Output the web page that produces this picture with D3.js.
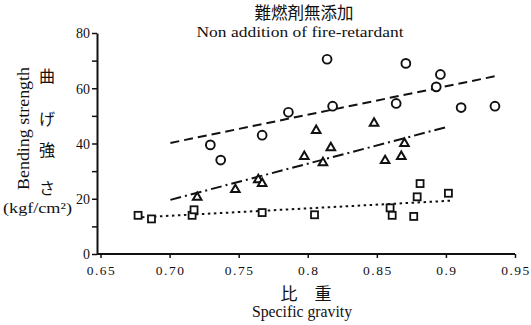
<!DOCTYPE html>
<html>
<head>
<meta charset="utf-8">
<script src="https://cdn.jsdelivr.net/npm/d3@7"></script>
<style>
  body { margin: 0; background: #fff; }
  svg { display: block; }
  text { font-family: "Liberation Serif", "DejaVu Serif", serif; fill: #111; }
  .jp { font-family: "Noto Sans CJK JP", sans-serif; }
</style>
</head>
<body>
<svg id="chart"></svg>
<script>
const W = 531, H = 325;

// data: [specific gravity, bending strength]
const circles = [
  [0.7295, 39.5], [0.737, 34], [0.767, 43], [0.786, 51.3], [0.814, 70.5], [0.818, 53.5],
  [0.864, 54.5], [0.871, 69], [0.893, 60.5], [0.896, 65], [0.911, 53], [0.9355, 53.5]
];
const triangles = [
  [0.720, 20.5], [0.7476, 23.3], [0.7642, 26.9], [0.767, 25.5], [0.7975, 35.3], [0.8061, 44.7],
  [0.811, 33], [0.8167, 38.5], [0.848, 47.3], [0.856, 33.8], [0.8677, 35.3], [0.870, 40]
];
const squares = [
  [0.6772, 14], [0.6869, 12.7], [0.7163, 14], [0.7177, 16], [0.767, 15], [0.8049, 14.2],
  [0.8596, 16.7], [0.8611, 14], [0.8767, 13.6], [0.8792, 20.7], [0.8813, 25.5], [0.9018, 22]
];

// fitted lines, endpoints
const circleLine = [[0.7006, 40.2], [0.937, 64.5]];
const triangleLine = [[0.7006, 19.6], [0.8994, 45.8]];
const squareLine = [[0.680, 13.3], [0.9037, 19.3]];

const xTicks = [0.65, 0.70, 0.75, 0.8, 0.85, 0.9, 0.95];
const xTickLabels = ['0.65', '0.70', '0.75', '0.8', '0.85', '0.9', '0.95'];
const yTicks = [0, 10, 20, 30, 40, 50, 60, 70, 80];
const yTickLabels = ['0', '', '20', '', '40', '', '60', '', '80'];
const yLabelJp = ['曲', 'げ', '強', 'さ'];

const svg = d3.select('#chart').attr('width', W).attr('height', H);

const x = d3.scaleLinear().domain([0.65, 0.95]).range([100.5, 515]);
const y = d3.scaleLinear().domain([0, 80]).range([254, 33]);
const axisX = 97;

// axes
const yAxis = d3.axisLeft(y).tickValues(yTicks).tickSize(5).tickSizeOuter(0)
  .tickFormat((d, i) => yTickLabels[i]);
const gy = svg.append('g').attr('transform', `translate(${axisX},0)`).call(yAxis);
gy.select('.domain').attr('stroke', '#111').attr('stroke-width', 2);
gy.selectAll('.tick line').attr('stroke', '#111').attr('stroke-width', 1.5);
gy.selectAll('.tick text').attr('font-size', 14).attr('x', -7).attr('dy', '0.35em');

const xAxis = d3.axisBottom(x).tickValues(xTicks).tickSize(4).tickSizeOuter(0)
  .tickFormat((d, i) => xTickLabels[i]);
const gx = svg.append('g').attr('transform', `translate(0,${y(0)})`).call(xAxis);
gx.select('.domain').attr('d', `M${axisX},0H${x(0.95)}`).attr('stroke', '#111').attr('stroke-width', 2);
gx.selectAll('.tick line').attr('stroke', '#111').attr('stroke-width', 1.5);
gx.selectAll('.tick text').attr('font-size', 13.5).attr('y', 11).attr('dx', 0.5).attr('letter-spacing', 1.5);
svg.selectAll('.tick text').style('font-family', '"Liberation Serif", serif').attr('fill', '#111');

// lines
const line = d3.line().x(d => x(d[0])).y(d => y(d[1]));
svg.append('path').attr('d', line(circleLine)).attr('fill', 'none')
  .attr('stroke', '#111').attr('stroke-width', 2).attr('stroke-dasharray', '9,5');
svg.append('path').attr('d', line(triangleLine)).attr('fill', 'none')
  .attr('stroke', '#111').attr('stroke-width', 2).attr('stroke-dasharray', '11,4,2,4');
svg.append('path').attr('d', line(squareLine)).attr('fill', 'none')
  .attr('stroke', '#111').attr('stroke-width', 2).attr('stroke-dasharray', '2.5,3.5');

// markers
svg.append('g').selectAll('circle').data(circles).join('circle')
  .attr('cx', d => x(d[0])).attr('cy', d => y(d[1])).attr('r', 4.4)
  .attr('fill', '#fff').attr('stroke', '#111').attr('stroke-width', 1.9);

const tri = d3.symbol().type(d3.symbolTriangle).size(32);
svg.append('g').selectAll('path').data(triangles).join('path')
  .attr('d', tri).attr('transform', d => `translate(${x(d[0])},${y(d[1])})`)
  .attr('fill', '#fff').attr('stroke', '#111').attr('stroke-width', 2);

svg.append('g').selectAll('rect').data(squares).join('rect')
  .attr('x', d => x(d[0]) - 3.5).attr('y', d => y(d[1]) - 3.5)
  .attr('width', 7).attr('height', 7)
  .attr('fill', '#fff').attr('stroke', '#111').attr('stroke-width', 1.8);

// titles
svg.append('text').attr('class', 'jp').attr('x', 304).attr('y', 19)
  .attr('text-anchor', 'middle').attr('font-size', 16.5).text('難燃剤無添加');
svg.append('text').attr('x', 300).attr('y', 37)
  .attr('text-anchor', 'middle').attr('font-size', 15.5)
  .attr('textLength', 207).attr('lengthAdjust', 'spacingAndGlyphs')
  .text('Non addition of fire-retardant');

// y label
const jpY = [82, 125, 156, 194];
yLabelJp.forEach((c, i) => {
  svg.append('text').attr('class', 'jp').attr('x', 47).attr('y', jpY[i])
    .attr('text-anchor', 'middle').attr('font-size', 16).text(c);
});
svg.append('text').attr('transform', 'translate(29,128.5) rotate(-90)')
  .attr('text-anchor', 'middle').attr('font-size', 16)
  .attr('textLength', 123).attr('lengthAdjust', 'spacingAndGlyphs')
  .text('Bending strength');
svg.append('text').attr('x', 37.5).attr('y', 213)
  .attr('text-anchor', 'middle').attr('font-size', 15)
  .attr('textLength', 69).attr('lengthAdjust', 'spacingAndGlyphs')
  .text('(kgf/cm²)');

// x label
svg.append('text').attr('class', 'jp').attr('x', 306).attr('y', 300)
  .attr('text-anchor', 'middle').attr('font-size', 17).attr('xml:space', 'preserve').text('比　重');
svg.append('text').attr('x', 302).attr('y', 317)
  .attr('text-anchor', 'middle').attr('font-size', 16)
  .attr('textLength', 100).attr('lengthAdjust', 'spacingAndGlyphs')
  .text('Specific gravity');
</script>
</body>
</html>
